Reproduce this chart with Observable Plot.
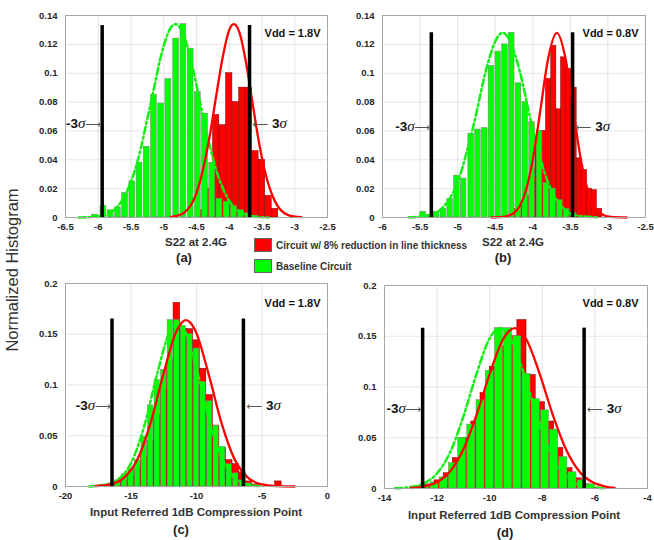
<!DOCTYPE html>
<html><head><meta charset="utf-8">
<script src="https://cdn.jsdelivr.net/npm/d3@7"></script>
<script src="https://cdn.jsdelivr.net/npm/@observablehq/plot@0.6"></script>
<style>
body{margin:0;background:#fff;}
#chart{position:relative;width:654px;height:540px;font-family:Arial,"Liberation Sans",sans-serif;color:#333;overflow:hidden;}
.panel{position:absolute;}
.lbl{position:absolute;transform:translate(-50%,-50%);white-space:nowrap;font-weight:bold;color:#333;}
.xl{font-size:11.5px;}
.tag{font-size:13px;color:#222;}
.ylab{position:absolute;left:12px;top:270px;transform:translate(-50%,-50%) rotate(-90deg);font-size:16.5px;white-space:nowrap;color:#333;}
.sw{position:absolute;width:18px;height:14px;border:1px solid #666;box-sizing:border-box;}
.lt{position:absolute;font-size:10px;font-weight:bold;color:#333;white-space:nowrap;transform:translateY(-50%);}
</style></head><body><div id="chart"></div>
<script>
// ---------- Panel (a): S22 at 2.4G, Vdd = 1.8V ----------
const greenA_x = [-6.05,-5.92,-5.81,-5.70,-5.59,-5.48,-5.37,-5.26,-5.15,-5.04,-4.93,-4.81,-4.70,-4.59,-4.48,-4.37,-4.26,-4.15,-4.04,-3.93,-3.82,-3.71,-3.60];
const greenA_y = [0.002,0.008,0.005,0.007,0.017,0.025,0.038,0.049,0.085,0.079,0.096,0.124,0.134,0.117,0.087,0.072,0.038,0.013,0.011,0.008,0.005,0.003,0.001];
const greenA_w = 0.108;
const redA_x = [-4.40,-4.30,-4.20,-4.10,-4.00,-3.90,-3.80,-3.70,-3.60,-3.50,-3.40,-3.30];
const redA_y = [0.005,0.020,0.071,0.064,0.100,0.080,0.090,0.090,0.046,0.040,0.015,0.006];
const redA_w = 0.097;
const gCurveA_x = [-6.3,-6.0,-5.8,-5.6,-5.4,-5.2,-5.0,-4.9,-4.82,-4.7,-4.6,-4.4,-4.2,-4.0,-3.8,-3.6,-3.4];
const gCurveA_y = [0,0.0008,0.004,0.0146,0.039,0.079,0.119,0.131,0.134,0.127,0.112,0.070,0.033,0.0115,0.003,0.0006,0];
const rCurveA_x = [-4.9,-4.7,-4.5,-4.3,-4.2,-4.1,-4.0,-3.93,-3.85,-3.75,-3.65,-3.55,-3.45,-3.3,-3.1,-2.9];
const rCurveA_y = [0.0003,0.003,0.017,0.056,0.084,0.111,0.130,0.134,0.129,0.109,0.081,0.053,0.031,0.011,0.0017,0.0002];
const sigmaA = [-5.94,-3.69], sigmaTopA = 0.133, sigmaLabelYA = 0.065;
const xTicksA = [-6.5,-6,-5.5,-5,-4.5,-4,-3.5,-3,-2.5];
const yTicksAB = [0,0.02,0.04,0.06,0.08,0.1,0.12,0.14];

// ---------- Panel (b): S22 at 2.4G, Vdd = 0.8V ----------
const greenB_x = [-5.46,-5.37,-5.28,-5.19,-5.10,-5.01,-4.92,-4.82,-4.73,-4.64,-4.55,-4.46,-4.37,-4.28,-4.19,-4.10,-4.01,-3.91,-3.82,-3.73,-3.64,-3.55,-3.46];
const greenB_y = [0.004,0.002,0.004,0.006,0.013,0.029,0.027,0.058,0.061,0.062,0.105,0.115,0.120,0.128,0.093,0.080,0.066,0.060,0.024,0.020,0.012,0.006,0.003];
const greenB_w = 0.091;
const redB_x = [-4.27,-4.20,-4.13,-4.06,-4.00,-3.93,-3.86,-3.79,-3.72,-3.65,-3.59,-3.52,-3.45,-3.38,-3.31,-3.25,-3.18,-3.11];
const redB_y = [0.003,0.006,0.008,0.015,0.034,0.055,0.060,0.096,0.119,0.075,0.111,0.103,0.090,0.041,0.033,0.020,0.019,0.006];
const redB_w = 0.068;
const gCurveB_x = [-5.65,-5.4,-5.2,-5.0,-4.8,-4.6,-4.5,-4.4,-4.3,-4.2,-4.0,-3.8,-3.6,-3.4,-3.15];
const gCurveB_y = [0.0001,0.0013,0.0068,0.0246,0.0614,0.1065,0.122,0.128,0.122,0.1065,0.0614,0.0246,0.0068,0.0013,0.0001];
const rCurveB_x = [-4.55,-4.4,-4.25,-4.1,-4.0,-3.9,-3.8,-3.68,-3.56,-3.46,-3.36,-3.26,-3.11,-2.96,-2.75];
const rCurveB_y = [0,0.0004,0.0032,0.0173,0.040,0.074,0.109,0.128,0.109,0.074,0.040,0.0173,0.0032,0.0004,0];
const sigmaB = [-5.35,-3.47], sigmaTopB = 0.128, sigmaLabelYB = 0.063;
const xTicksB = [-6,-5.5,-5,-4.5,-4,-3.5,-3,-2.5];

// ---------- Panel (c): Input referred P1dB, Vdd = 1.8V ----------
const greenC_x = [-17.5,-17,-16.5,-16,-15.5,-15,-14.5,-14,-13.5,-13,-12.5,-12,-11.5,-11,-10.5,-10,-9.5,-9,-8.5,-8,-7.5,-7,-6.5,-6,-5.5];
const greenC_y = [0.001,0.002,0.003,0.006,0.012,0.017,0.026,0.049,0.080,0.105,0.115,0.164,0.164,0.158,0.150,0.136,0.103,0.084,0.060,0.039,0.022,0.013,0.006,0.003,0.001];
const greenC_w = 0.5;
const redC_x = [-17,-16.5,-16,-15.5,-15,-14.5,-14,-13.5,-13,-12.5,-12,-11.5,-11,-10.5,-10,-9.5,-9,-8.5,-8,-7.5,-7,-6.5,-6,-5.5,-3.75];
const redC_y = [0.001,0.002,0.004,0.006,0.010,0.018,0.030,0.045,0.070,0.095,0.125,0.181,0.155,0.155,0.144,0.116,0.090,0.060,0.038,0.026,0.022,0.014,0.005,0.002,0.005];
const redC_w = 0.5;
const gCurveC_x = [-18.2,-17,-16,-15,-14,-13,-12,-11.45,-11,-10,-9,-8,-7,-6,-5.2];
const gCurveC_y = [0.0001,0.0014,0.0066,0.023,0.059,0.111,0.154,0.161,0.156,0.116,0.064,0.026,0.0075,0.0016,0.0004];
const rCurveC_x = [-17.7,-16.5,-15.5,-14.5,-13.5,-12.5,-11.5,-10.8,-10.1,-9.1,-8.1,-7.1,-6.1,-5.1,-3.9,-2.5];
const rCurveC_y = [0.0003,0.0023,0.009,0.027,0.063,0.112,0.154,0.164,0.154,0.112,0.063,0.027,0.009,0.0023,0.0003,0];
const sigmaC = [-16.45,-6.42], sigmaTopC = 0.165, sigmaLabelYC = 0.08;
const xTicksC = [-20,-15,-10,-5,0];
const yTicksCD = [0,0.05,0.1,0.15,0.2];

// ---------- Panel (d): Input referred P1dB, Vdd = 0.8V ----------
const greenD_x = [-12.8,-12.45,-12.1,-11.75,-11.4,-11.05,-10.7,-10.35,-10.0,-9.65,-9.3,-8.95,-8.6,-8.25,-7.9,-7.55,-7.2,-6.85,-6.5,-6.15];
const greenD_y = [0.002,0.003,0.006,0.011,0.025,0.050,0.063,0.087,0.116,0.158,0.158,0.150,0.113,0.088,0.077,0.058,0.031,0.016,0.008,0.004];
const greenD_w = 0.35;
const redD_x = [-12.625,-12.275,-11.925,-11.575,-11.225,-10.875,-10.525,-10.175,-9.825,-9.475,-9.125,-8.775,-8.425,-8.075,-7.725,-7.375,-7.025,-6.675,-6.325,-5.975];
const redD_y = [0.002,0.004,0.008,0.015,0.030,0.050,0.066,0.094,0.120,0.140,0.150,0.166,0.112,0.085,0.066,0.040,0.020,0.010,0.004,0.001];
const redD_w = 0.35;
const gCurveD_x = [-13.6,-13.0,-12.5,-12.0,-11.5,-11.0,-10.5,-10.0,-9.6,-9.2,-8.7,-8.2,-7.7,-7.2,-6.7,-6.2,-5.6];
const gCurveD_y = [0.0002,0.0014,0.0051,0.015,0.036,0.071,0.113,0.148,0.158,0.148,0.113,0.071,0.036,0.015,0.0051,0.0014,0.0002];
const rCurveD_x = [-13.0,-12.5,-12.0,-11.5,-11.0,-10.5,-10.0,-9.5,-9.05,-8.6,-8.1,-7.6,-7.1,-6.6,-6.1,-5.6,-5.25];
const rCurveD_y = [0.0005,0.0019,0.0063,0.017,0.0386,0.0725,0.113,0.1466,0.158,0.1466,0.113,0.0725,0.0386,0.017,0.0063,0.0019,0.0007];
const sigmaD = [-12.55,-6.41], sigmaTopD = 0.158, sigmaLabelYD = 0.079;
const xTicksD = [-14,-12,-10,-8,-6,-4];

// ---------- Text ----------
const vddLabels = ["Vdd = 1.8V","Vdd = 0.8V","Vdd = 1.8V","Vdd = 0.8V"];
const xLabels = ["S22 at 2.4G","S22 at 2.4G","Input Referred 1dB Compression Point","Input Referred 1dB Compression Point"];
const tags = ["(a)","(b)","(c)","(d)"];
const legendLabels = ["Circuit w/ 8% reduction in line thickness","Baseline Circuit"];
const yLabel = "Normalized Histogram";

// ---------- Build ----------
const bins = (xs, ys, w) => xs.map((c, i) => ({x1: c - w/2, x2: c + w/2, y1: 0, y2: ys[i]}));
const pts = (xs, ys) => xs.map((x, i) => ({x, y: ys[i]}));

const panels = [
  {left:0, top:0, width:330, height:235, ml:65, mr:3, mt:15, mb:18, xd:[-6.5,-2.5], yd:[0,0.14], xt:xTicksA, yt:yTicksAB,
   green:bins(greenA_x,greenA_y,greenA_w), red:bins(redA_x,redA_y,redA_w), gc:pts(gCurveA_x,gCurveA_y), rc:pts(rCurveA_x,rCurveA_y),
   sig:sigmaA, sigTop:sigmaTopA, sigY:sigmaLabelYA, vdd:vddLabels[0], vdx:-7, vdy:18},
  {left:330, top:0, width:324, height:235, ml:52, mr:9, mt:15, mb:18, xd:[-6,-2.5], yd:[0,0.14], xt:xTicksB, yt:yTicksAB,
   green:bins(greenB_x,greenB_y,greenB_w), red:bins(redB_x,redB_y,redB_w), gc:pts(gCurveB_x,gCurveB_y), rc:pts(rCurveB_x,rCurveB_y),
   sig:sigmaB, sigTop:sigmaTopB, sigY:sigmaLabelYB, vdd:vddLabels[1], vdx:-7, vdy:18},
  {left:0, top:270, width:330, height:230, ml:65, mr:3, mt:13, mb:14, xd:[-20,0], yd:[0,0.2], xt:xTicksC, yt:yTicksCD,
   green:bins(greenC_x,greenC_y,greenC_w), red:bins(redC_x,redC_y,redC_w), gc:pts(gCurveC_x,gCurveC_y), rc:pts(rCurveC_x,rCurveC_y),
   sig:sigmaC, sigTop:sigmaTopC, sigY:sigmaLabelYC, vdd:vddLabels[2], vdx:-7, vdy:20},
  {left:330, top:270, width:324, height:230, ml:54, mr:7, mt:15, mb:12, xd:[-14,-4], yd:[0,0.2], xt:xTicksD, yt:yTicksCD,
   green:bins(greenD_x,greenD_y,greenD_w), red:bins(redD_x,redD_y,redD_w), gc:pts(gCurveD_x,gCurveD_y), rc:pts(rCurveD_x,rCurveD_y),
   sig:sigmaD, sigTop:sigmaTopD, sigY:sigmaLabelYD, vdd:vddLabels[3], vdx:-9, vdy:18}
];

const chart = document.getElementById("chart");
const fmt = d => String(d);

function styleSigma(svg) {
  d3.select(svg).selectAll("text").each(function() {
    const t = this.textContent;
    if (!t.includes("σ")) return;
    const sel = d3.select(this);
    sel.text(null);
    t.split(/(σ|⟶|⟵)/).filter(s => s.length).forEach(s => {
      const ts = sel.append("tspan").text(s);
      if (s === "σ") ts.attr("font-family", "'Liberation Serif','DejaVu Serif',serif").attr("font-style", "italic").attr("font-weight", "normal").attr("font-size", 15);
      else if (s === "⟶" || s === "⟵") ts.attr("font-family", "'DejaVu Sans',sans-serif").attr("font-weight", "normal").attr("font-size", 11).attr("fill", "#555");
    });
  });
}

panels.forEach(p => {
  const svg = Plot.plot({
    width: p.width, height: p.height,
    marginLeft: p.ml, marginRight: p.mr, marginTop: p.mt, marginBottom: p.mb,
    style: {background: "transparent", overflow: "visible", fontFamily: "Arial, 'Liberation Sans', sans-serif", fontSize: "9.5px", fontWeight: "bold", color: "#262626"},
    x: {domain: p.xd},
    y: {domain: p.yd},
    marks: [
      Plot.gridX(p.xt, {stroke: "#000", strokeOpacity: 0.1}),
      Plot.gridY(p.yt, {stroke: "#000", strokeOpacity: 0.1}),
      Plot.rect(p.red, {x1: "x1", x2: "x2", y1: "y1", y2: "y2", fill: "#ff0000", stroke: "#7a0000", strokeWidth: 0.5}),
      Plot.rect(p.green, {x1: "x1", x2: "x2", y1: "y1", y2: "y2", fill: "#00ff00", stroke: "#7f7f7f", strokeWidth: 0.5, insetLeft: 0.6, insetRight: 0.6}),
      Plot.line(p.gc, {x: "x", y: "y", stroke: "#11f011", strokeWidth: 2.5, strokeDasharray: "7,3,2,3", curve: "monotone-x"}),
      Plot.line(p.rc, {x: "x", y: "y", stroke: "#ff0000", strokeWidth: 2.3, curve: "monotone-x"}),
      Plot.ruleX(p.sig.map(x => ({x, y1: 0, y2: p.sigTop})), {x: "x", y1: "y1", y2: "y2", stroke: "#000", strokeWidth: 3.5}),
      Plot.frame({stroke: "#a6a6a6"}),
      Plot.axisX({ticks: p.xt, tickFormat: fmt, tickSize: 0, tickPadding: 6, label: null}),
      Plot.axisY({ticks: p.yt, tickFormat: fmt, tickSize: 0, tickPadding: 8, label: null}),
      Plot.text([{x: p.sig[0], y: p.sigY}], {x: "x", y: "y", text: () => "-3σ⟶", textAnchor: "end", dx: -1, fontSize: 13.5, fill: "#111"}),
      Plot.text([{x: p.sig[1], y: p.sigY}], {x: "x", y: "y", text: () => "⟵ 3σ", textAnchor: "start", dx: 3, fontSize: 13.5, fill: "#111"}),
      Plot.text([p.vdd], {text: d => d, frameAnchor: "top-right", textAnchor: "end", lineAnchor: "middle", dx: p.vdx, dy: p.vdy, fontSize: 11, fill: "#111"})
    ]
  });
  styleSigma(svg);
  const wrap = document.createElement("div");
  wrap.className = "panel";
  wrap.style.left = p.left + "px";
  wrap.style.top = p.top + "px";
  wrap.appendChild(svg);
  chart.appendChild(wrap);
});

// Axis titles and panel tags
const labelPos = [[196,242],[513,242],[196,512],[514,515]];
const tagPos = [[184,257],[503,257],[181,529],[505,532]];
labelPos.forEach((pos, i) => {
  const d = document.createElement("div");
  d.className = "lbl xl"; d.textContent = xLabels[i];
  d.style.left = pos[0] + "px"; d.style.top = pos[1] + "px";
  chart.appendChild(d);
  const t = document.createElement("div");
  t.className = "lbl tag"; t.textContent = tags[i];
  t.style.left = tagPos[i][0] + "px"; t.style.top = tagPos[i][1] + "px";
  chart.appendChild(t);
});
const yl = document.createElement("div");
yl.className = "ylab"; yl.textContent = yLabel;
chart.appendChild(yl);

// Legend
const legendColors = ["#ff0000", "#00ff00"];
const legendTops = [238, 259];
legendLabels.forEach((lab, i) => {
  const s = document.createElement("div");
  s.className = "sw"; s.style.left = "254px"; s.style.top = legendTops[i] + "px"; s.style.background = legendColors[i];
  chart.appendChild(s);
  const t = document.createElement("div");
  t.className = "lt"; t.textContent = lab;
  t.style.left = "276px"; t.style.top = (legendTops[i] + 7) + "px";
  chart.appendChild(t);
});
</script>
</body></html>
